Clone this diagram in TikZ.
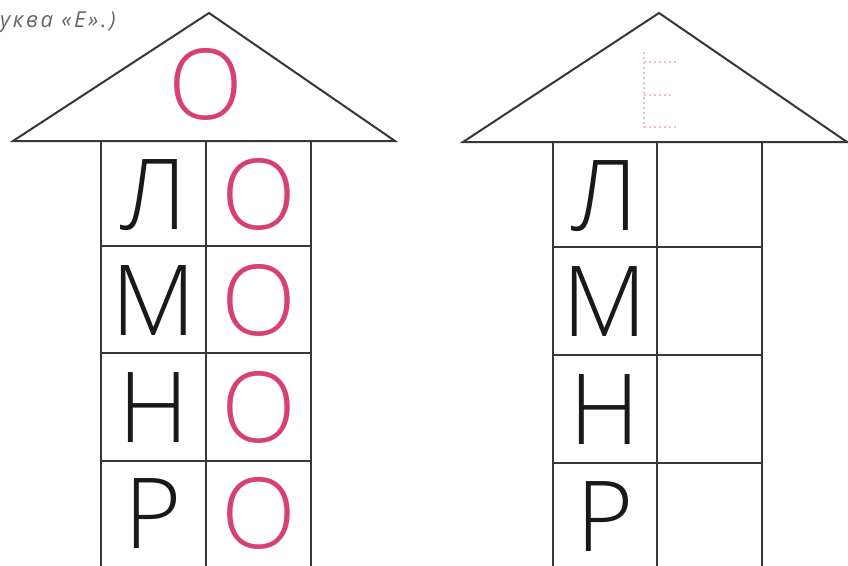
\documentclass[tikz,border=0pt]{standalone}
\usepackage{fontspec}
\setmainfont{Open Sans}
\newfontfamily\lightf{Open Sans Light}
\newfontfamily\capf{Open Sans}[LetterSpace=12]
\definecolor{pinkO}{RGB}{214,64,118}
\definecolor{lineC}{RGB}{55,55,55}
\definecolor{letC}{RGB}{25,25,25}
\begin{document}
\begin{tikzpicture}[x=1pt,y=-1pt,
  wall/.style={draw=lineC,line width=2pt},
  roof/.style={draw=lineC,line width=2pt,line join=miter},
  blk/.style={anchor=base,inner sep=0pt,text depth=0pt,text=letC,font=\lightf\fontsize{98}{100}\selectfont},
  pnk/.style={anchor=base,inner sep=0pt,text depth=0pt,text=pinkO,font=\lightf\fontsize{98}{100}\selectfont},
  tracing/.style={draw=pinkO!35,line width=1.6pt,dash pattern=on 2pt off 3pt}]
\useasboundingbox (0,0) rectangle (848,565);
\fill[white] (0,0) rectangle (848,565);
% top text (cut)
\node[anchor=base west,inner sep=0pt,text=black!60,font=\capf\fontsize{22}{24}\selectfont\itshape] (cap) at (0,27) {уква «Е».)};
% ---------- left house ----------
\coordinate (LA) at (209,13);
\coordinate (LL) at (13,141);
\coordinate (LR) at (395,141);
\draw[roof] (LL) -- (LA) -- (LR) -- cycle;
\node[pnk] (LroofO) at (206,119) {О};
\foreach \x/\n in {101/a,206/b,311/c}{
  \coordinate (Lt\n) at (\x,141);
  \coordinate (Lb\n) at (\x,570);
  \draw[wall] (Lt\n) -- (Lb\n);
}
\foreach \y/\n in {246/1,353/2,461/3}{
  \coordinate (Ll\n) at (101,\y);
  \coordinate (Lr\n) at (311,\y);
  \draw[wall] (Ll\n) -- (Lr\n);
}
\node[blk] (L1) at (153.5,229) {Л};
\node[blk] (L2) at (153.5,335) {М};
\node[blk] (L3) at (153.5,442) {Н};
\node[blk] (L4) at (153.5,548) {Р};
\node[pnk] (O1) at (258.5,229) {О};
\node[pnk] (O2) at (258.5,335) {О};
\node[pnk] (O3) at (258.5,442) {О};
\node[pnk] (O4) at (258.5,548) {О};
% ---------- right house ----------
\coordinate (RA) at (659,13);
\coordinate (RL) at (463,142);
\coordinate (RR) at (847,142);
\draw[roof] (RL) -- (RA) -- (RR) -- cycle;
% faint traced letter E
\coordinate (E1) at (644,52);
\coordinate (E2) at (644,128);
\coordinate (E3) at (676,62);
\coordinate (E4) at (644,62);
\coordinate (E5) at (644,95);
\coordinate (E6) at (672,95);
\coordinate (E7) at (678,127);
\coordinate (E8) at (644,127);
\draw[tracing] (E1) -- (E2);
\draw[tracing] (E4) -- (E3);
\draw[tracing] (E5) -- (E6);
\draw[tracing] (E8) -- (E7);
\foreach \x/\n in {553/a,657/b,762/c}{
  \coordinate (Rt\n) at (\x,142);
  \coordinate (Rb\n) at (\x,570);
  \draw[wall] (Rt\n) -- (Rb\n);
}
\foreach \y/\n in {247/1,355/2,463/3}{
  \coordinate (Rl\n) at (553,\y);
  \coordinate (Rr\n) at (762,\y);
  \draw[wall] (Rl\n) -- (Rr\n);
}
\node[blk] (R1) at (605,230) {Л};
\node[blk] (R2) at (605,336) {М};
\node[blk] (R3) at (605,444) {Н};
\node[blk] (R4) at (605,551) {Р};
\end{tikzpicture}
\end{document}
